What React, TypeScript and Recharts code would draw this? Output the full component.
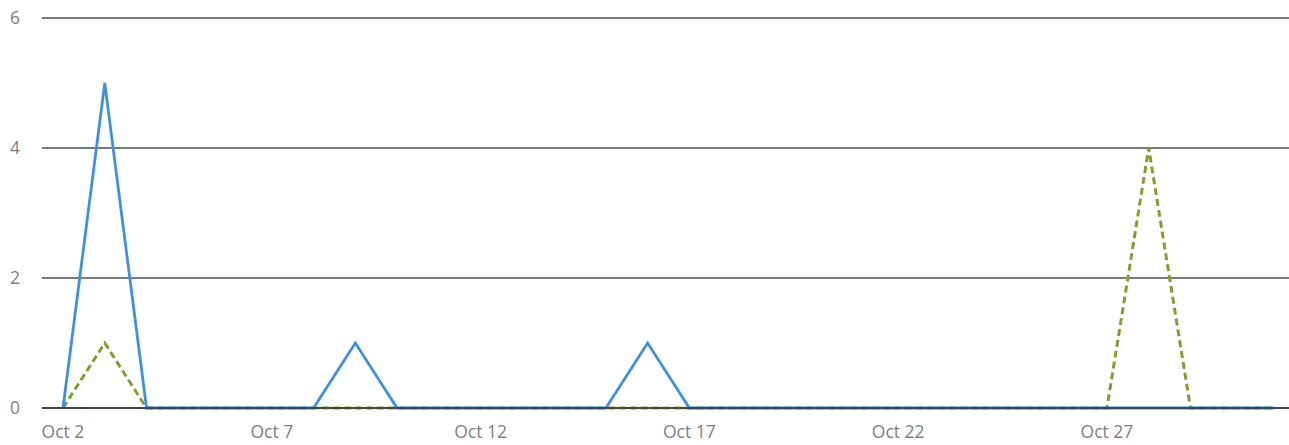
import { LineChart, Line, XAxis, YAxis, CartesianGrid } from "recharts"

const days = [
 "Oct 2", "Oct 3", "Oct 4", "Oct 5", "Oct 6", "Oct 7", "Oct 8", "Oct 9", "Oct 10", "Oct 11",
 "Oct 12", "Oct 13", "Oct 14", "Oct 15", "Oct 16", "Oct 17", "Oct 18", "Oct 19", "Oct 20", "Oct 21",
 "Oct 22", "Oct 23", "Oct 24", "Oct 25", "Oct 26", "Oct 27", "Oct 28", "Oct 29", "Oct 30", "Oct 31",
]

const blueValues = [
 0, 5, 0, 0, 0, 0, 0, 1, 0, 0,
 0, 0, 0, 0, 1, 0, 0, 0, 0, 0,
 0, 0, 0, 0, 0, 0, 0, 0, 0, 0,
]

const greenValues = [
 0, 1, 0, 0, 0, 0, 0, 0, 0, 0,
 0, 0, 0, 0, 0, 0, 0, 0, 0, 0,
 0, 0, 0, 0, 0, 0, 4, 0, 0, 0,
]

const yTicks = [0, 2, 4, 6]

const data = days.map((day, i) => ({
 day,
 blue: blueValues[i],
 green: greenValues[i],
}))

const tickStyle = {
 fill: "#808080",
 fontSize: 17.5,
 fontFamily: "'Open Sans', sans-serif",
}

export default function App() {
 return (
  <div style={{ position: "absolute", left: 0, top: 0, background: "#fff" }}>
   <LineChart
    width={1289}
    height={445}
    data={data}
    margin={{ top: 18, right: 0, left: 0, bottom: 0 }}
   >
    <CartesianGrid
     horizontal
     vertical={false}
     stroke="#7a7a7a"
     strokeWidth={2}
    />
    <XAxis
     dataKey="day"
     interval={4}
     height={37}
     padding={{ left: 21, right: 15 }}
     axisLine={{ stroke: "#333", strokeWidth: 1.5 }}
     tickLine={false}
     tickSize={0}
     tickMargin={18}
     tick={tickStyle}
    />
    <YAxis
     width={42}
     domain={[0, 6]}
     ticks={yTicks}
     axisLine={false}
     tickLine={false}
     tickSize={0}
     tickMargin={22}
     tick={tickStyle}
    />
    <Line
     type="linear"
     dataKey="green"
     stroke="#80a02c"
     strokeWidth={3}
     strokeDasharray="7 4"
     dot={false}
     isAnimationActive={false}
    />
    <Line
     type="linear"
     dataKey="blue"
     stroke="#3d90e8"
     strokeWidth={2.8}
     dot={false}
     isAnimationActive={false}
    />
   </LineChart>
  </div>
 )
}
